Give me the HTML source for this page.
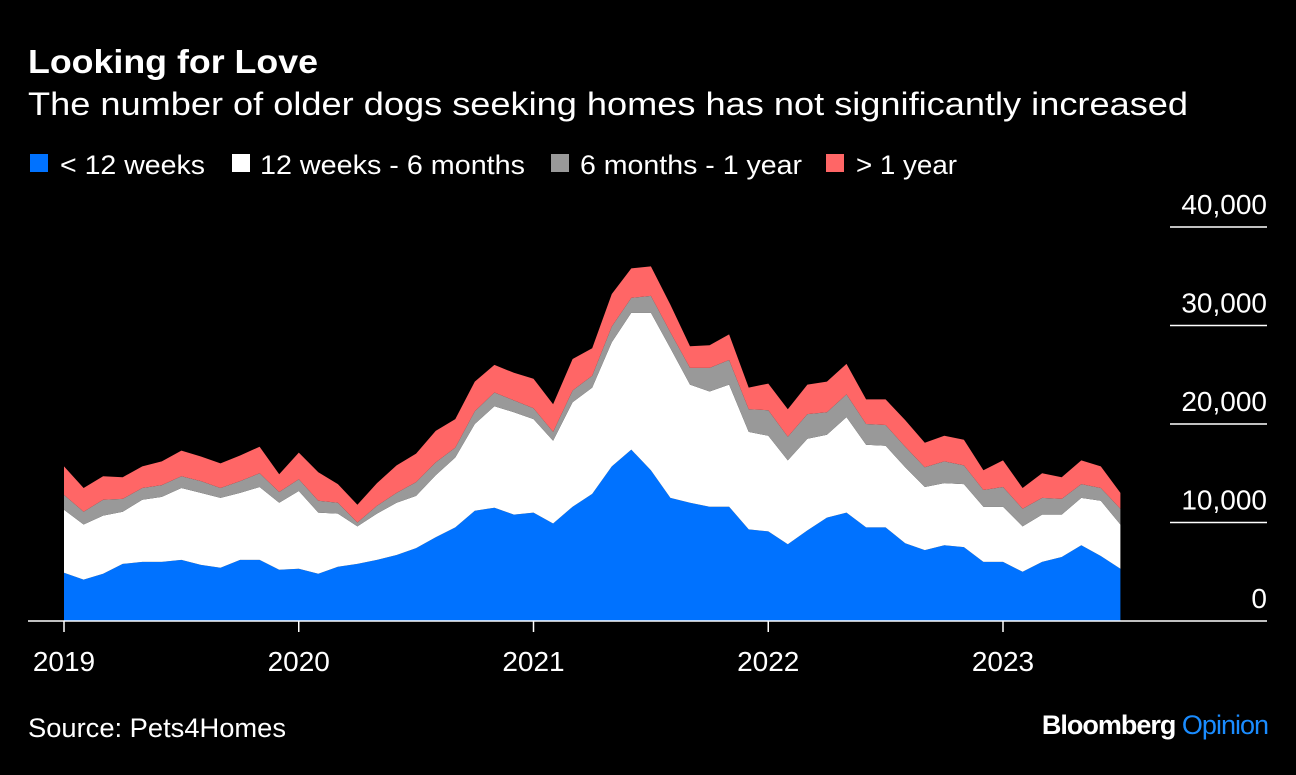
<!DOCTYPE html>
<html><head><meta charset="utf-8"><style>
body{margin:0;background:#000;width:1296px;height:770px;overflow:hidden;font-family:"Liberation Sans",sans-serif;color:#fff}
</style></head><body>
<svg width="1296" height="770" xmlns="http://www.w3.org/2000/svg">
<text x="28" y="73" font-size="33" font-weight="bold" fill="#fff" textLength="290" lengthAdjust="spacingAndGlyphs">Looking for Love</text>
<text x="28" y="115" font-size="32" fill="#fff" textLength="1160" lengthAdjust="spacingAndGlyphs">The number of older dogs seeking homes has not significantly increased</text>
<g font-size="27" fill="#fff">
<rect x="30" y="154" width="18" height="18" fill="#0072ff"/>
<text x="60" y="174" textLength="145" lengthAdjust="spacingAndGlyphs">&lt; 12 weeks</text>
<rect x="232" y="154" width="18" height="18" fill="#fff"/>
<text x="260" y="174" textLength="265" lengthAdjust="spacingAndGlyphs">12 weeks - 6 months</text>
<rect x="551" y="154" width="18" height="18" fill="#999"/>
<text x="580" y="174" textLength="222" lengthAdjust="spacingAndGlyphs">6 months - 1 year</text>
<rect x="826" y="154" width="18" height="18" fill="#ff6666"/>
<text x="856" y="174" textLength="101" lengthAdjust="spacingAndGlyphs">&gt; 1 year</text>
</g>
<g id="plot"></g>
<text x="28" y="737" font-size="27" fill="#fff" textLength="258" lengthAdjust="spacingAndGlyphs">Source: Pets4Homes</text>
<text x="1268" y="734" font-size="27" text-anchor="end" font-weight="bold" letter-spacing="-1"><tspan fill="#fff">Bloomberg</tspan><tspan fill="#1a8cff" font-weight="normal"> Opinion</tspan></text>
</svg>
<script>
const blue=[4.9,4.2,4.8,5.8,6.0,6.0,6.2,5.7,5.4,6.2,6.2,5.2,5.3,4.8,5.5,5.8,6.2,6.7,7.4,8.5,9.5,11.2,11.5,10.8,11.0,9.9,11.6,12.9,15.7,17.4,15.3,12.5,12.0,11.6,11.6,9.3,9.1,7.8,9.2,10.5,11.0,9.5,9.5,7.9,7.2,7.7,7.5,6.0,6.0,5.0,6.0,6.5,7.7,6.6,5.3];
const white=[6.4,5.6,5.9,5.3,6.3,6.6,7.3,7.3,7.1,6.8,7.4,6.8,7.9,6.2,5.4,3.8,4.7,5.3,5.3,6.3,7.1,8.8,10.3,10.4,9.5,8.4,10.6,10.8,12.6,13.9,16.0,15.2,12.0,11.7,12.4,9.9,9.7,8.5,9.3,8.4,9.7,8.4,8.3,7.7,6.4,6.3,6.4,5.6,5.6,4.6,4.8,4.3,4.8,5.6,4.5];
const gray=[1.5,1.3,1.6,1.3,1.2,1.2,1.2,1.2,1.0,1.2,1.4,1.1,1.2,1.2,1.1,0.4,0.8,1.0,1.4,1.3,1.0,1.3,1.4,1.2,1.1,0.9,1.2,1.2,1.6,1.5,1.7,1.6,1.7,2.4,2.5,2.3,2.6,2.4,2.5,2.3,2.3,2.1,2.1,2.1,2.0,2.2,1.9,1.7,2.0,1.8,1.7,1.6,1.4,1.3,1.6];
const red=[2.9,2.4,2.4,2.2,2.2,2.4,2.6,2.5,2.5,2.6,2.7,1.8,2.7,2.9,1.9,1.8,2.3,2.8,2.9,3.2,2.9,3.0,2.8,2.8,3.0,2.8,3.2,2.8,3.3,3.0,3.0,2.8,2.2,2.3,2.6,2.2,2.7,2.8,3.0,3.1,3.1,2.5,2.6,2.7,2.5,2.6,2.6,2.0,2.7,2.1,2.5,2.2,2.4,2.2,1.6];
const yTicks=[0,10000,20000,30000,40000];
const yearLabels=["2019","2020","2021","2022","2023"];
const NS="http://www.w3.org/2000/svg";
const g=document.getElementById('plot');
function x(i){return 64+i*(1003-64)/48;}
function y(v){return 621-v*(621-227)/40;}
function mk(t,a){const e=document.createElementNS(NS,t);for(const k in a)e.setAttribute(k,a[k]);g.appendChild(e);return e;}
const series=[blue,white,gray,red], colors=["#0072ff","#fff","#999","#ff6666"], names=["area-under-12-weeks","area-12-weeks-6-months","area-6-months-1-year","area-over-1-year"];
let base=blue.map(()=>0);
series.forEach((s,k)=>{
  const top=base.map((b,i)=>b+s[i]);
  let d="";
  top.forEach((v,i)=>{d+=(i?"L":"M")+x(i).toFixed(1)+","+y(v).toFixed(1);});
  for(let i=base.length-1;i>=0;i--)d+="L"+x(i).toFixed(1)+","+y(base[i]).toFixed(1);
  const p=mk('path',{d:d+"Z",fill:colors[k]});
  
  
  base=top;
});
yTicks.forEach(v=>{
  const yy=y(v/1000);
  if(v>0){const l=mk('line',{x1:1170,x2:1267,y1:yy,y2:yy,stroke:"#fff","stroke-width":1.5});
  
  }
  const t=mk('text',{x:1267,y:yy-13,"text-anchor":"end","font-size":28,fill:"#fff"});
  t.textContent=v===0?"0":v.toLocaleString('en-US');
  
  
});
const ax=mk('line',{x1:28,x2:1267,y1:621,y2:621,stroke:"#fff","stroke-width":1.5});


yearLabels.forEach((lab,k)=>{
  const xx=x(k*12);
  const tk=mk('line',{x1:xx,x2:xx,y1:621,y2:632,stroke:"#fff","stroke-width":1.5});
  
  
  const t=mk('text',{x:xx,y:671,"text-anchor":"middle","font-size":28,fill:"#fff"});
  t.textContent=lab;
  
  
});
</script>
</body></html>
